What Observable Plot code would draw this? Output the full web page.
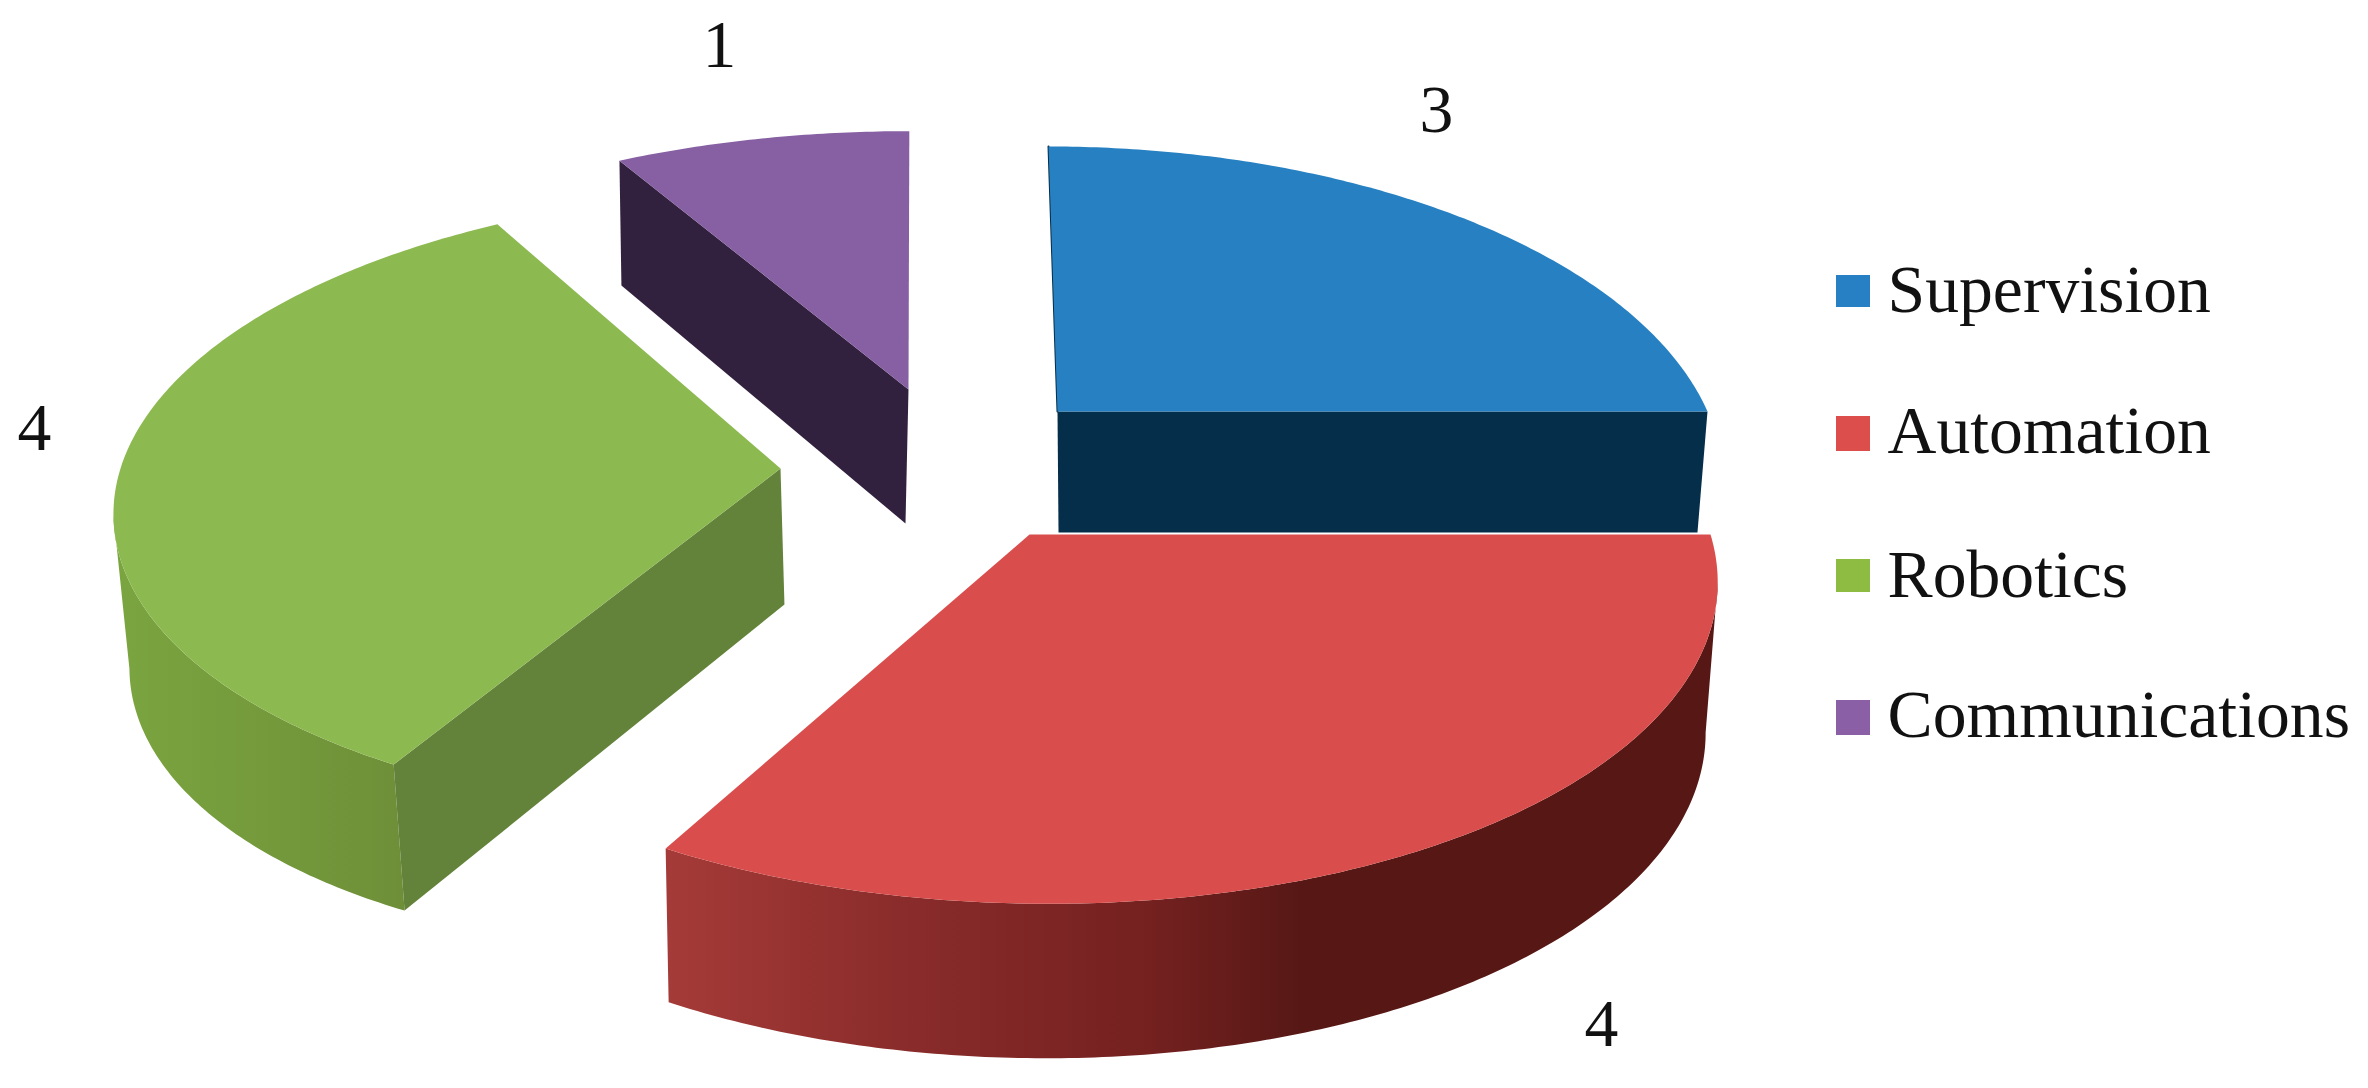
<!DOCTYPE html>
<html>
<head>
<meta charset="utf-8">
<style>
html,body{margin:0;padding:0;background:#fff}
svg{display:block}
</style>
<script src="https://cdn.jsdelivr.net/npm/d3@7"></script>
<script src="https://cdn.jsdelivr.net/npm/@observablehq/plot@0.6"></script>
</head>
<body>
<div id="root"></div>
<script>
// Chart data
const categories = ["Supervision", "Automation", "Robotics", "Communications"];
const values = [3, 4, 4, 1];

// Colours
const topColors = ["#2680c2", "#d94e4c", "#8cb950", "#8760a3"];
const cutColors = ["#042e4a", null, "#63823a", "#32213e"];
const wallFills = [null, "url(#redWall)", "url(#greenWall)", null];
const legendColors = ["#2880c4", "#dc4e4b", "#8ebb42", "#8a5fa6"];

// 3D view of each exploded slice (layout only)
const apexX = [1057, 1029, 780, 908];
const apexY = [411, 534, 468, 389];
const radiusX = [650, 681, 660, 680];
const radiusY = [318, 325, 309, 310];
const skew = [-10.8, -16.7, 22.7, 1];
const persp = [0.2, 0.12, 0.111, 0.2];
const depthBase = [121, 150, 136, 134];
const depthSlopeY = [0, 0.012, 0, 0.04];
const depthSlopeX = [0, 0, 0.026, 0];
const shrink = [0.983, 0.9857, 0.982, 0.9827];
const vanishX = [1117, 874, 1000, 734];
const drawOrder = [0, 3, 2, 1];

// Labels layout
const valueLabelX = [1436, 1601, 34, 719];
const valueLabelBase = [131, 1045, 449, 66];
const legendTop = [275, 416, 559, 700];
const legendBottom = [307, 451, 592, 735];
const legendBase = [311, 452, 596.5, 736.5];
const legendLeft = 1836, legendRight = 1870, legendTextX = 1887;
const fontSize = 67.7;
const fontFamily = "'Liberation Serif','Times New Roman',serif";

const arcs = d3.pie().sort(null).startAngle(0).endAngle(2 * Math.PI)(values);

function surfacePoint(i, a) {
  const u = Math.sin(a), v = Math.cos(a), w = 1 + persp[i] * v;
  return {x: apexX[i] + (radiusX[i] * u + skew[i] * v) / w, y: apexY[i] - radiusY[i] * v / w};
}
function lowerPoint(i, p) {
  return {
    x: vanishX[i] + (p.x - vanishX[i]) * shrink[i],
    y: p.y + depthBase[i] + depthSlopeY[i] * (p.y - apexY[i]) + depthSlopeX[i] * (apexX[i] - p.x)
  };
}
function arcPoints(i) {
  const a0 = arcs[i].startAngle, a1 = arcs[i].endAngle;
  const n = Math.ceil((a1 - a0) * 90);
  return d3.range(n + 1).map(k => surfacePoint(i, a0 + (a1 - a0) * k / n));
}
const apexPoint = i => ({x: apexX[i], y: apexY[i]});

// The curved wall only shows between the silhouette's extreme point and the near end of the arc.
function wallArc(i, arc) {
  if (i === 1) return arc.slice(d3.greatestIndex(arc, p => p.x));
  if (i === 2) return arc.slice(0, d3.leastIndex(arc, p => p.x) + 1);
  return arc;
}

const gradientDefs = () => {
  const d = d3.create("svg:defs");
  const grad = (id, x1, x2, stops) => {
    const g = d.append("linearGradient").attr("id", id)
      .attr("gradientUnits", "userSpaceOnUse")
      .attr("x1", x1).attr("x2", x2).attr("y1", 0).attr("y2", 0);
    stops.forEach(([o, c]) => g.append("stop").attr("offset", o).attr("stop-color", c));
  };
  grad("redWall", 665, 1500, [[0, "#a53b38"], [0.28, "#8a2c2b"], [0.58, "#742120"], [0.76, "#571815"], [1, "#571815"]]);
  grad("greenWall", 129, 404, [[0, "#7aa43f"], [1, "#6e8f38"]]);
  return d.node();
};

const shape = (pts, fill) => Plot.line(pts, {x: "x", y: "y", fill, stroke: "none", curve: "linear"});

const marks = [gradientDefs];
for (const i of drawOrder) {
  const arc = arcPoints(i);
  // outer curved wall
  if (wallFills[i]) {
    const wall = wallArc(i, arc);
    marks.push(shape([...wall, ...wall.map(p => lowerPoint(i, p)).reverse()], wallFills[i]));
  }
  // straight cut face that faces the viewer
  if (cutColors[i]) {
    const end = i === 0 ? arc[arc.length - 1] : arc[0];
    marks.push(shape([apexPoint(i), end, lowerPoint(i, end), lowerPoint(i, apexPoint(i))], cutColors[i]));
  }
  if (i === 0) marks.push(Plot.line([arc[0], apexPoint(0)], {x: "x", y: "y", stroke: cutColors[0], strokeWidth: 2}));
  // top surface
  marks.push(shape([apexPoint(i), ...arc], topColors[i]));
}

const valueRows = values.map((v, i) => ({v: String(v), x: valueLabelX[i], y: valueLabelBase[i]}));
marks.push(Plot.text(valueRows, {x: "x", y: "y", text: "v", textAnchor: "middle", lineAnchor: "bottom", fontSize, fontFamily, fill: "#111"}));

const legendRows = categories.map((c, i) => ({c, color: legendColors[i], y1: legendTop[i], y2: legendBottom[i], base: legendBase[i]}));
marks.push(Plot.rect(legendRows, {x1: () => legendLeft, x2: () => legendRight, y1: "y1", y2: "y2", fill: d => d.color}));
marks.push(Plot.text(legendRows, {x: () => legendTextX, y: "base", text: "c", textAnchor: "start", lineAnchor: "bottom", fontSize, fontFamily, fill: "#111"}));

const figure = Plot.plot({
  width: 2368, height: 1088, margin: 0,
  x: {domain: [0, 2368], range: [0, 2368], axis: null},
  y: {domain: [0, 1088], range: [0, 1088], axis: null},
  color: {type: "identity"},
  style: {background: "#fff"},
  marks
});
document.getElementById("root").append(figure);
</script>
</body>
</html>
